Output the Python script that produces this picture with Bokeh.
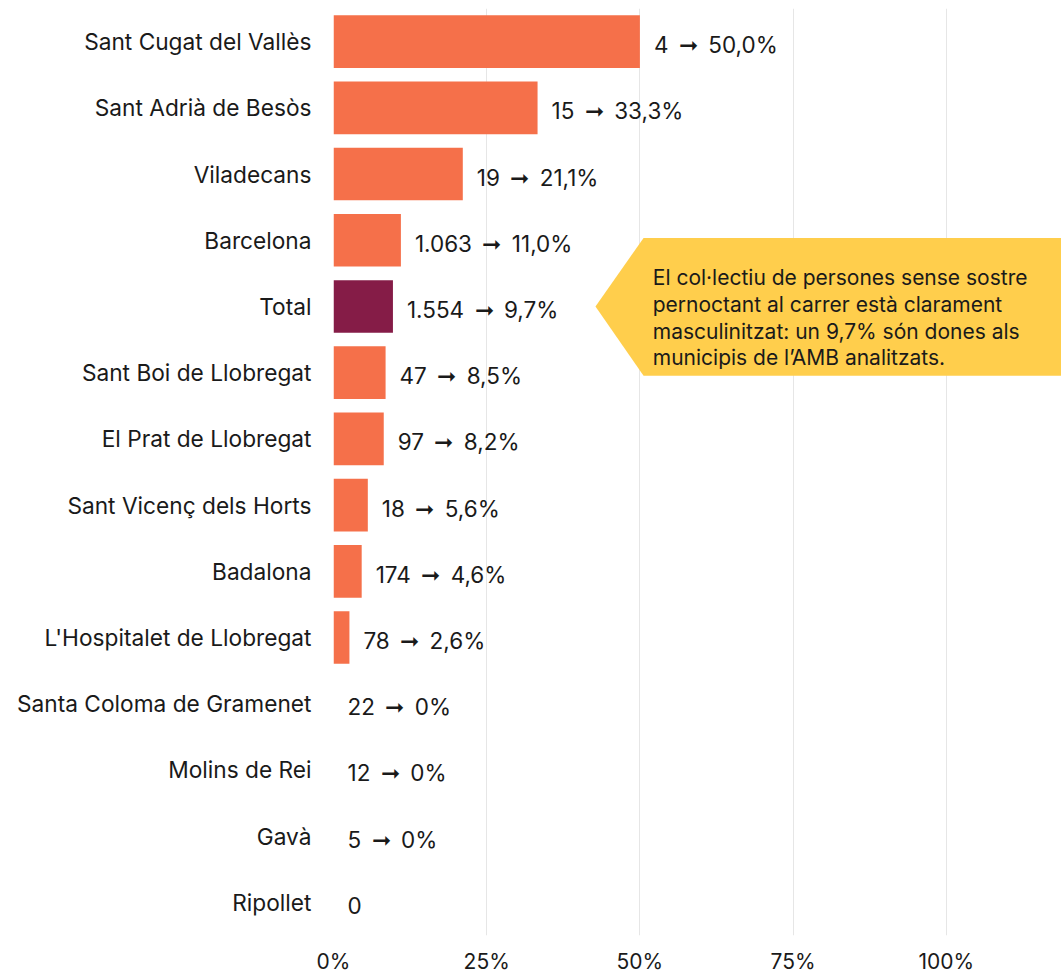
from bokeh.plotting import figure
from bokeh.models import Range1d, FixedTicker, ColumnDataSource
from bokeh.core.properties import value
from bokeh.embed import file_html
from bokeh.resources import INLINE

municipalities = ["Sant Cugat del Vallès", "Sant Adrià de Besòs", "Viladecans", "Barcelona",
                  "Total", "Sant Boi de Llobregat", "El Prat de Llobregat", "Sant Vicenç dels Horts",
                  "Badalona", "L'Hospitalet de Llobregat", "Santa Coloma de Gramenet",
                  "Molins de Rei", "Gavà", "Ripollet"]
counts = [4, 15, 19, 1063, 1554, 47, 97, 18, 174, 78, 22, 12, 5, 0]
women_pct = [50.0, 33.3, 21.1, 11.0, 9.7, 8.5, 8.2, 5.6, 4.6, 2.6, 0, 0, 0, 0]
x_ticks = [0, 25, 50, 75, 100]
x_tick_labels = ["0%", "25%", "50%", "75%", "100%"]
callout_lines = ["El col·lectiu de persones sense sostre",
                 "pernoctant al carrer està clarament",
                 "masculinitzat: un 9,7% són dones als",
                 "municipis de l\u2019AMB analitzats."]

ORANGE = "#F5704A"
PLUM = "#851C47"
YELLOW = "#FFCE4C"
TEXT = "#1a1a1a"
FONT = "Inter"
ARROW = "\u2009\u279E\u2009"


def fmt_count(n):
    return f"{n:,}".replace(",", ".")


def fmt_pct(v):
    if v == 0:
        return "0%"
    return f"{v:.1f}".replace(".", ",") + "%"


labels = []
for c, v in zip(counts, women_pct):
    if c == 0:
        labels.append("0")
    else:
        labels.append(f"{fmt_count(c)} {ARROW} {fmt_pct(v)}")

idx = list(range(len(municipalities)))
colors = [PLUM if m == "Total" else ORANGE for m in municipalities]

src = ColumnDataSource(dict(y=idx, pct=women_pct, color=colors, label=labels,
                            ly=[i + 0.045 for i in idx]))

p = figure(frame_width=728, frame_height=927, min_border_left=333, min_border_right=0,
           min_border_top=8, min_border_bottom=0,
           x_range=Range1d(0, 118.8), y_range=Range1d(len(idx) - 0.5, -0.5),
           output_backend="svg", toolbar_location=None, tools="")
p.outline_line_color = None
p.background_fill_color = "white"
p.border_fill_color = "white"

# grid
p.ygrid.grid_line_color = None
p.xgrid.ticker = FixedTicker(ticks=[t for t in x_ticks if t > 0])
p.xgrid.grid_line_color = "#e6e6e6"
p.xgrid.grid_line_width = 1

# callout
ti = municipalities.index("Total")
cx = [42.75, 50.6, 130, 130, 50.6]
cy = [ti, ti - 1.035, ti - 1.035, ti + 1.045, ti + 1.045]
p.patch(cx, cy, fill_color=YELLOW, line_color=None)
line_y = [ti - 0.43 + k * 0.402 for k in range(len(callout_lines))]
p.text(x=[52.1] * len(callout_lines), y=line_y, text=callout_lines,
       text_font=value(FONT), text_font_size="21px", text_color=TEXT,
       text_baseline="alphabetic", text_align="left")

# bars
p.hbar(y="y", left=0, right="pct", height=0.795, fill_color="color", line_color=None, source=src)
p.text(x="pct", y="ly", text="label", x_offset=14, source=src,
       text_font=value(FONT), text_font_size="22.5px", text_color=TEXT,
       text_baseline="middle", text_align="left")

# axes
p.xaxis.ticker = FixedTicker(ticks=x_ticks)
p.xaxis.major_label_overrides = {t: l for t, l in zip(x_ticks, x_tick_labels)}
p.yaxis.ticker = FixedTicker(ticks=idx)
p.yaxis.major_label_overrides = {i: m for i, m in zip(idx, municipalities)}
for ax in (p.xaxis, p.yaxis):
    ax.axis_line_color = None
    ax.major_tick_line_color = None
    ax.minor_tick_line_color = None
    ax.major_tick_out = 0
    ax.major_tick_in = 0
    ax.minor_tick_out = 0
    ax.major_label_text_font = FONT
    ax.major_label_text_color = TEXT
p.xaxis.major_label_text_font_size = "21px"
p.yaxis.major_label_text_font_size = "22.7px"
p.xaxis.major_label_standoff = 13
p.yaxis.major_label_standoff = 22

open("out.html", "w").write(file_html(p, INLINE))
